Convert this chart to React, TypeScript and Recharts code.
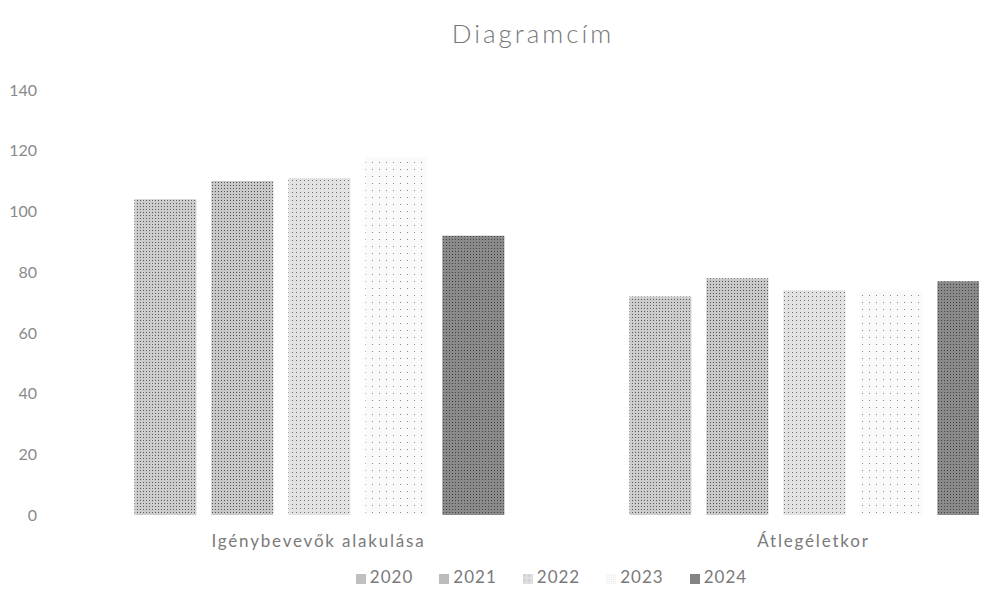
import React from "react";
import { BarChart, Bar, XAxis, YAxis, Legend } from "recharts";

const categories = ["Igénybevevők alakulása", "Átlegéletkor"];
const years = ["2020", "2021", "2022", "2023", "2024"];
const values2020 = [104, 72];
const values2021 = [110, 78];
const values2022 = [111, 74];
const values2023 = [118, 74];
const values2024 = [92, 77];
const yTicks = [0, 20, 40, 60, 80, 100, 120, 140];

const seriesValues = [values2020, values2021, values2022, values2023, values2024];

const data = categories.map((name, i) => {
  const row: Record<string, string | number> = { name };
  years.forEach((y, j) => {
    row[y] = seriesValues[j][i];
  });
  return row;
});

// stipple look of the scanned print
const patterns = [
  { id: "p2020", bg: "#cccccc", dot: "#5e5e5e", size: 3 },
  { id: "p2021", bg: "#c8c8c8", dot: "#555555", size: 3 },
  { id: "p2022", bg: "#e2e2e2", dot: "#707070", size: 4 },
  { id: "p2023", bg: "#fafafa", dot: "#8a8a8a", size: 7 },
  { id: "p2024", bg: "#8a8a8a", dot: "#444444", size: 3 },
];

const font = "Lato, 'Open Sans', sans-serif";

export default function App() {
  return (
    <div style={{ position: "relative", width: 979, height: 587, overflow: "hidden", fontFamily: font }}>
      <div
        style={{
          position: "absolute",
          top: 9,
          left: 0,
          width: 1050,
          textAlign: "center",
          fontSize: 26,
          color: "#777777",
          letterSpacing: 3,
          fontWeight: 300,
        }}
      >
        Diagramcím
      </div>
      <BarChart
        width={1060}
        height={587}
        data={data}
        margin={{ top: 82, right: 7, left: 0, bottom: 8 }}
        barGap={15}
        barCategoryGap="12.8%"
      >
        <defs>
          {patterns.map((p) => (
            <pattern key={p.id} id={p.id} width={p.size} height={p.size} patternUnits="userSpaceOnUse">
              <rect width={p.size} height={p.size} fill={p.bg} />
              <rect x={0} y={0} width={1} height={1} fill={p.dot} />
            </pattern>
          ))}
        </defs>
        <XAxis
          dataKey="name"
          axisLine={false}
          tickLine={false}
          tickMargin={14}
          height={51}
          tick={{ fill: "#7a7a7a", fontSize: 17, fontFamily: font, letterSpacing: 1.8 }}
        />
        <YAxis
          domain={[0, 140]}
          ticks={yTicks}
          axisLine={false}
          tickLine={false}
          tickSize={0}
          width={63}
          tickMargin={34}
          tick={{ fill: "#8a8a8a", fontSize: 16, fontFamily: font }}
        />
        <Legend
          verticalAlign="bottom"
          iconType="square"
          iconSize={10}
          wrapperStyle={{ fontSize: 17, fontFamily: font, color: "#7a7a7a", left: 30 }}
          formatter={(value: string) => (
            <span style={{ color: "#7a7a7a", paddingRight: 16, letterSpacing: 1 }}>{value}</span>
          )}
        />
        {years.map((y, j) => (
          <Bar key={y} dataKey={y} fill={`url(#${patterns[j].id})`} isAnimationActive={false} />
        ))}
      </BarChart>
    </div>
  );
}
